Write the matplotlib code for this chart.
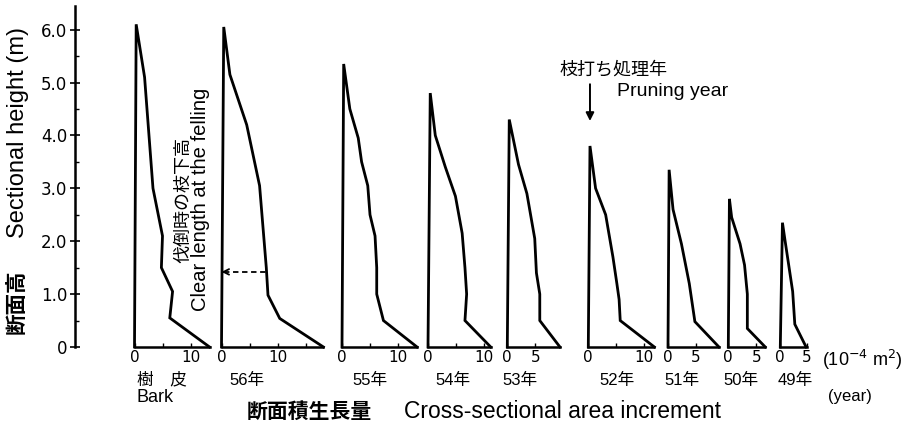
import matplotlib
matplotlib.use('Agg')
import matplotlib.pyplot as plt
from matplotlib.ticker import MultipleLocator

plt.rcParams['font.family'] = ['Liberation Sans', 'Noto Sans CJK JP']

# profile of each year: increment (10^-4 m2) vs sectional height (m), from top to stump
bark_x = [0.3, 1.8, 3.3, 5.0, 4.8, 6.8, 6.3, 13.4]
bark_h = [6.1, 5.1, 3.0, 2.1, 1.5, 1.05, 0.55, 0.0]
y56_x = [0.4, 1.5, 4.5, 6.8, 8.0, 8.3, 10.4, 18.2]
y56_h = [6.05, 5.15, 4.2, 3.05, 1.5, 0.98, 0.54, 0.0]
y55_x = [0.3, 1.4, 2.9, 3.5, 4.6, 5.0, 5.9, 6.2, 6.2, 7.4, 13.4]
y55_h = [5.35, 4.5, 3.95, 3.5, 3.05, 2.5, 2.1, 1.5, 1.0, 0.5, 0.0]
y54_x = [0.4, 1.3, 3.1, 4.9, 6.1, 6.6, 6.9, 6.6, 11.2]
y54_h = [4.8, 4.0, 3.4, 2.85, 2.15, 1.5, 1.0, 0.5, 0.0]
y53_x = [0.35, 2.0, 3.5, 4.9, 5.2, 5.8, 5.8, 9.4]
y53_h = [4.3, 3.45, 2.9, 2.05, 1.4, 1.0, 0.5, 0.0]
y52_x = [0.3, 1.3, 3.1, 4.4, 5.1, 5.5, 5.7, 11.8]
y52_h = [3.8, 3.0, 2.5, 1.7, 1.2, 0.9, 0.5, 0.0]
y51_x = [0.2, 0.9, 2.4, 3.8, 4.8, 9.1]
y51_h = [3.35, 2.6, 1.95, 1.2, 0.48, 0.0]
y50_x = [0.2, 0.6, 2.1, 2.9, 3.4, 3.4, 6.6]
y50_h = [2.8, 2.45, 1.95, 1.55, 1.0, 0.35, 0.0]
y49_x = [0.4, 0.9, 2.3, 2.7, 4.8]
y49_h = [2.35, 2.0, 1.05, 0.43, 0.0]

panel_labels = ['樹　皮', '56年', '55年', '54年', '53年', '52年', '51年', '50年', '49年']
panel_ticks = [[0, 10], [0, 10], [0, 10], [0, 10], [0, 5], [0, 10], [0, 5], [0, 5], [0, 5]]
height_ticks = [0, 1, 2, 3, 4, 5, 6]
height_labels = ['0', '1.0', '2.0', '3.0', '4.0', '5.0', '6.0']
clear_length = 1.42

profiles = [(bark_x, bark_h), (y56_x, y56_h), (y55_x, y55_h), (y54_x, y54_h),
            (y53_x, y53_h), (y52_x, y52_h), (y51_x, y51_h), (y50_x, y50_h), (y49_x, y49_h)]

W, H = 911, 426
fig = plt.figure(figsize=(W / 100, H / 100), dpi=100)

def fx(px):
    return px / W

def fy(py):
    return 1 - py / H

BASE = 347          # pixel row of height 0
PX_M = 52.9         # pixels per metre
PX_U = 5.6          # pixels per increment unit
YMAX = 6.45
bottom = fy(BASE)
height = YMAX * PX_M / H

# main height axis
ax0 = fig.add_axes([fx(75), bottom, fx(830), height])
ax0.set_ylim(0, YMAX)
ax0.set_xlim(0, 1)
for s in ['top', 'right', 'bottom']:
    ax0.spines[s].set_visible(False)
ax0.spines['left'].set_linewidth(1.8)
ax0.set_xticks([])
ax0.set_yticks(height_ticks)
ax0.set_yticklabels(height_labels, family='DejaVu Sans', fontsize=12)
ax0.yaxis.set_minor_locator(MultipleLocator(0.5))
ax0.tick_params(axis='y', which='major', direction='inout', length=7, width=1.2, pad=2)
ax0.tick_params(axis='y', which='minor', direction='in', length=3, width=1.0)
ax0.patch.set_visible(False)

panel_x0 = [134.5, 221.5, 342, 428, 507.3, 588.3, 668, 728.3, 780.3]
label_x = [162, 246.5, 370, 453, 520, 616.7, 681.7, 741, 795]

axes = []
for (xs, hs), x0, ticks in zip(profiles, panel_x0, panel_ticks):
    xmax = max(xs)
    ax = fig.add_axes([fx(x0), bottom, xmax * PX_U / W, height])
    ax.set_xlim(0, xmax)
    ax.set_ylim(0, YMAX)
    ax.plot([0] + xs, [0] + hs, color='black', lw=2.0, clip_on=False,
            solid_joinstyle='miter')
    for s in ['top', 'right', 'left']:
        ax.spines[s].set_visible(False)
    ax.spines['bottom'].set_linewidth(1.8)
    ax.set_yticks([])
    ax.set_xticks(ticks)
    ax.set_xticklabels([str(t) for t in ticks], family='DejaVu Sans', fontsize=11)
    ax.xaxis.set_minor_locator(MultipleLocator(5))
    ax.tick_params(axis='x', which='both', direction='in', length=3, width=1.0, pad=2)
    ax.patch.set_visible(False)
    axes.append(ax)

for lab, x in zip(panel_labels, label_x):
    fig.text(fx(x), fy(380), lab, ha='center', va='center', fontsize=12)
fig.text(fx(137), fy(398), 'Bark', ha='left', va='center', fontsize=13)
fig.text(fx(822), fy(360), '(10$^{-4}$ m$^{2}$)', ha='left', va='center', fontsize=13)
fig.text(fx(850), fy(397), '(year)', ha='center', va='center', fontsize=12)

fig.text(fx(309), fy(412), '断面積生長量', ha='center', va='center', fontsize=15,
         fontweight='bold')
fig.text(fx(562), fy(412), 'Cross-sectional area increment', ha='center', va='center',
         fontsize=16.5)

fig.text(fx(18), fy(132), 'Sectional height (m)', rotation=90, ha='center', va='center',
         fontsize=17)
fig.text(fx(18), fy(302), '断面高', rotation=90, ha='center', va='center', fontsize=15.5,
         fontweight='bold')

# pruning year arrow on the 52 panel
ax52 = axes[5]
ax52.annotate('', xy=(0.3, 4.22), xytext=(0.3, 5.02),
              arrowprops=dict(arrowstyle='-|>', color='black', lw=1.4,
                              mutation_scale=12), annotation_clip=False)
fig.text(fx(560), fy(70), '枝打ち処理年', ha='left', va='center', fontsize=13)
fig.text(fx(617), fy(92), 'Pruning year', ha='left', va='center', fontsize=14)

# clear length at the felling on the 56 panel
ax56 = axes[1]
ax56.plot([0.5, 8.0], [clear_length, clear_length], color='black', lw=1.3,
          linestyle=(0, (3, 2)), clip_on=False)
ax56.annotate('', xy=(0, clear_length), xytext=(0.9, clear_length),
              arrowprops=dict(arrowstyle='->', color='black', lw=1.3,
                              mutation_scale=10), annotation_clip=False)
fig.text(fx(184), fy(200), '伐倒時の枝下高', rotation=90, ha='center', va='center',
         fontsize=13)
fig.text(fx(201), fy(199), 'Clear length at the felling', rotation=90, ha='center',
         va='center', fontsize=14.5)

fig.savefig('out.png', dpi=100)
